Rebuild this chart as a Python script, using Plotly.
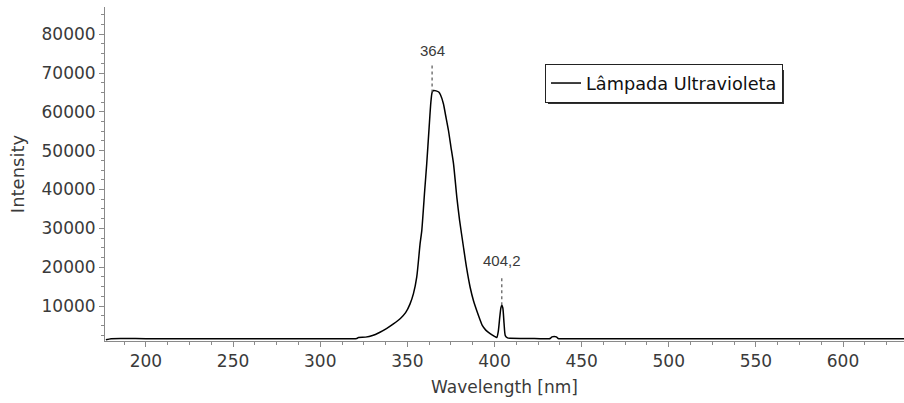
import plotly.graph_objects as go

# ---- data ----
wavelength = [177, 180, 200, 250, 300, 321, 322, 326, 330, 334, 338, 342, 346, 349,
              351.5, 353.5, 355.4, 357.3, 358.3, 360, 361.1, 362.5, 363.5, 364.2, 365,
              366.5, 368, 369, 370.7, 372, 373.6, 375, 376.5, 378.4, 380, 382.2, 384,
              386, 388, 390, 391.7, 393, 395, 397.5, 400, 401.3, 402.2, 403, 403.7,
              404.2, 404.8, 405.5, 406.2, 407.5, 409, 420, 432, 433, 435.5, 436.5,
              450, 500, 550, 600, 635]
intensity = [1300, 1600, 1600, 1600, 1600, 1650, 1900, 2000, 2400, 3200, 4200, 5400, 6800, 8300,
             10500, 13200, 17500, 26000, 29500, 40000, 46500, 56000, 62500, 65000, 65500,
             65400, 65100, 64400, 62100, 59000, 55200, 51000, 46600, 38000, 32000, 25200, 19800,
             14900, 11300, 8600, 6500, 5000, 3800, 2900, 2200, 1900, 3500, 7000, 9600,
             10200, 9500, 5500, 2400, 1800, 1700, 1650, 1650, 2050, 2050, 1650,
             1600, 1600, 1600, 1600, 1600]

peak_wavelengths = [364.2, 404.2]
peak_labels = ["364", "404,2"]
series_name = "Lâmpada Ultravioleta"

x_range = [176.5, 635]
y_range = [1000, 87000]

# styling (pixel offsets of the peak markers)
leader_len = [27, 30]
label_shift = [31, 34]

FONT = "DejaVu Sans"
TXT = "#3a3a3a"
AX = "#8a8a8a"

fig = go.Figure()
fig.add_trace(go.Scatter(x=wavelength, y=intensity, mode="lines", name=series_name,
                         line=dict(color="black", width=1.5, shape="spline", smoothing=0.6)))

for wl, lab, ll, ls in zip(peak_wavelengths, peak_labels, leader_len, label_shift):
    yv = intensity[wavelength.index(wl)]
    fig.add_shape(type="line", xref="x", yref="y", x0=wl, x1=wl,
                  ysizemode="pixel", yanchor=yv, y0=0, y1=ll,
                  line=dict(color="#555555", width=1.2, dash="dot"))
    fig.add_annotation(x=wl, y=yv, text=lab, showarrow=False, yanchor="bottom",
                       yshift=ls, font=dict(family="Liberation Sans", size=15, color=TXT))

# legend shadow
fig.add_shape(type="rect", xref="paper", yref="paper", x0=0.5544, x1=0.8498, y0=0.7096, y1=0.8114,
              fillcolor="#303030", line=dict(width=0), layer="above")

fig.update_layout(
    width=904, height=403,
    margin=dict(l=105, r=0, t=7, b=62),
    paper_bgcolor="white", plot_bgcolor="white",
    font=dict(family=FONT, size=16, color=TXT),
    showlegend=True,
    legend=dict(x=0.5507, y=0.8293, xanchor="left", yanchor="top",
                bgcolor="white", bordercolor="#222222", borderwidth=1,
                font=dict(family=FONT, size=17.7, color="#111111"),
                itemwidth=30, tracegroupgap=0),
    xaxis=dict(range=x_range, showgrid=False, zeroline=False, automargin=False,
               showline=True, linecolor=AX, linewidth=1,
               ticks="outside", ticklen=5, tickcolor=AX, tick0=0, dtick=50, tickformat="d",
               minor=dict(ticks="outside", ticklen=3, tickcolor=AX, dtick=12.5, showgrid=False),
               tickfont=dict(family=FONT, size=17, color=TXT),
               title=dict(text="Wavelength [nm]", standoff=10,
                          font=dict(family=FONT, size=17, color=TXT))),
    yaxis=dict(range=y_range, showgrid=False, zeroline=False, automargin=False,
               showline=True, linecolor=AX, linewidth=1,
               ticks="outside", ticklen=5, tickcolor=AX, tick0=0, dtick=10000, tickformat="d",
               minor=dict(ticks="outside", ticklen=3, tickcolor=AX, dtick=2500, showgrid=False),
               tickfont=dict(family=FONT, size=17, color=TXT),
               title=dict(text="Intensity", standoff=12,
                          font=dict(family=FONT, size=18, color=TXT))),
)

fig.write_html("out.html", config={"displayModeBar": False},
               post_script="document.body.style.margin='0';document.body.style.overflow='hidden';")
